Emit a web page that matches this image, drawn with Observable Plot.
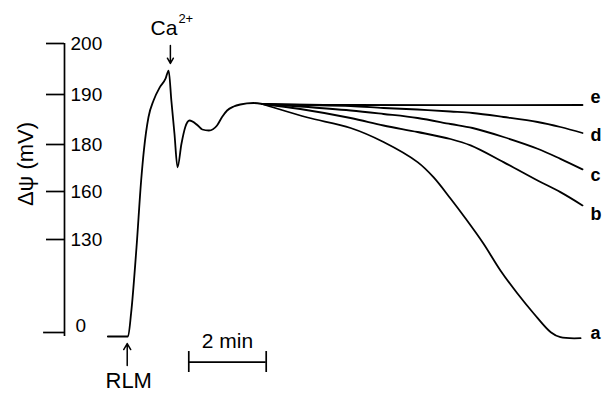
<!DOCTYPE html>
<html><head><meta charset="utf-8">
<script src="https://cdn.jsdelivr.net/npm/d3@7"></script>
<script src="https://cdn.jsdelivr.net/npm/@observablehq/plot@0.6"></script>
<style>body{margin:0;background:#fff} svg{display:block}</style>
</head><body><div id="chart"></div>
<script>
// y tick values (mV) — the original axis is non-linear (piecewise)
const yTicks = [0, 130, 160, 180, 190, 200];
const yTickPixels = [332, 239, 191, 144, 94, 43];

// Common trace: time (min, 0 = RLM addition) and Δψ (mV)
const commonT   = [-0.50, 0.02, 0.10, 0.24, 0.36, 0.43, 0.55, 0.68, 0.84, 0.99, 1.07, 1.14, 1.22, 1.30, 1.40, 1.50, 1.61, 1.81, 1.94, 2.11, 2.32, 2.45, 2.58, 2.75, 2.92, 3.26, 3.49];
const commonPsi = [-5.6, -5.6, 26.6, 119.2, 164.7, 177.4, 185.5, 188.8, 191.4, 193.1, 194.7, 188.8, 182.2, 170.3, 180.1, 183.5, 184.8, 183.9, 183.0, 182.8, 183.8, 185.5, 186.8, 187.6, 188.0, 188.3, 188.1];

// Diverging traces a–e
const seriesNames = ["a", "b", "c", "d", "e"];
const aT   = [3.49, 3.78, 4.66, 5.77, 6.62, 7.50, 7.91, 8.35, 8.74, 9.20, 9.64, 10.08, 10.50, 10.94, 11.19, 11.71];
const aPsi = [188.1, 187.4, 185.4, 183.3, 180.5, 172.5, 166.1, 155.6, 143.1, 124.4, 86.7, 54.5, 26.6, 0.4, -6.6, -8.0];
const bT   = [3.49, 4.47, 5.77, 6.62, 7.50, 8.35, 8.87, 9.72, 10.60, 11.19, 11.76];
const bPsi = [188.1, 187.1, 185.3, 183.8, 182.5, 181.1, 179.6, 172.5, 164.7, 159.6, 151.3];
const cT   = [3.49, 4.47, 5.77, 6.62, 7.50, 8.35, 8.92, 9.72, 10.60, 11.19, 11.76];
const cPsi = [188.1, 187.6, 186.8, 186.1, 185.3, 184.1, 183.3, 181.5, 178.2, 173.9, 169.4];
const dT   = [3.49, 4.47, 5.77, 6.62, 7.50, 8.35, 8.92, 9.72, 10.60, 11.19, 11.76];
const dPsi = [188.1, 187.9, 187.7, 187.3, 187.0, 186.6, 186.3, 185.5, 184.5, 183.5, 182.3];
const eT   = [3.49, 5.77, 11.76];
const ePsi = [188.1, 187.9, 187.9];

// Curve label positions (end time, Δψ of the label centre)
const labelT   = [11.76, 11.76, 11.76, 11.76, 11.76];
const labelPsi = [-1.4, 145.6, 166.8, 181.8, 189.4];

// Annotations
const rlmT = 0.0, rlmArrowPsi = [-46.1, -15.4], rlmTextPsi = -78.0;
const caT = 1.115, caArrowPsi = [199.6, 196.1], caTextPsi = 201.6;
const barStart = 1.59, barLength = 2, barPsi = -41.5, barTickPsi = [-26.6, -55.9];
const yAxisTop = 200, yAxisBottom = -5.6, xAxisAt = -1.62, xEnd = 11.76;
const tickLeft = -2.085, zeroTickLeft = -2.16, yTitlePsi = 171.7;

const common = commonT.map((t, i) => ({t, psi: commonPsi[i]}));
const tailT = [aT, bT, cT, dT, eT], tailPsi = [aPsi, bPsi, cPsi, dPsi, ePsi];
const tails = seriesNames.flatMap((s, k) => tailT[k].map((t, i) => ({series: s, t, psi: tailPsi[k][i]})));
const labels = seriesNames.map((s, k) => ({name: s, t: labelT[k], psi: labelPsi[k]}));

// piecewise-linear (non-uniform) Δψ axis, as in the original figure
const psiToPos = d3.scaleLinear().domain(yTicks).range(yTickPixels);

const font = "'Liberation Sans', Arial, Helvetica, sans-serif";
const nonZero = yTicks.filter(d => d !== 0);
const chart = Plot.plot({
  width: 602, height: 393,
  marginLeft: 64, marginRight: 20, marginTop: 43, marginBottom: 57,
  style: {fontFamily: font, background: "#fff", color: "#000"},
  x: {domain: [xAxisAt, xEnd], axis: null},
  y: {transform: d => psiToPos(d), domain: [0, 393], range: [0, 393], axis: null},
  marks: [
    Plot.ruleX([xAxisAt], {y1: yAxisBottom, y2: yAxisTop, stroke: "#000", strokeWidth: 1.7}),
    Plot.ruleY(nonZero, {y: d => d, x1: tickLeft, x2: xAxisAt, stroke: "#000", strokeWidth: 1.7}),
    Plot.ruleY([0], {y: d => d, x1: zeroTickLeft, x2: xAxisAt, stroke: "#000", strokeWidth: 1.7}),
    Plot.text(nonZero, {y: d => d, text: d => String(d), frameAnchor: "left", textAnchor: "start", dx: 6, fontSize: 19, fill: "#000"}),
    Plot.text([0], {y: d => d, text: d => String(d), frameAnchor: "left", textAnchor: "start", dx: 11, dy: -7, fontSize: 19, fill: "#000"}),
    Plot.text(["Δψ (mV)"], {y: yTitlePsi, text: d => d, frameAnchor: "left", textAnchor: "middle", rotate: -90, dx: -39, fontSize: 22, fill: "#000"}),
    Plot.line(common, {x: "t", y: "psi", curve: "monotone-x", stroke: "#000", strokeWidth: 1.8}),
    Plot.line(tails, {x: "t", y: "psi", z: "series", curve: "catmull-rom", stroke: "#000", strokeWidth: 1.8}),
    Plot.text(labels, {x: "t", y: "psi", text: "name", textAnchor: "start", dx: 8, fontSize: 18, fontWeight: "bold", fill: "#000"}),
    Plot.arrow([0], {x1: rlmT, x2: rlmT, y1: rlmArrowPsi[0], y2: rlmArrowPsi[1], headLength: 7, stroke: "#000", strokeWidth: 1.5}),
    Plot.arrow([0], {x1: caT, x2: caT, y1: caArrowPsi[0], y2: caArrowPsi[1], headLength: 7, stroke: "#000", strokeWidth: 1.5}),
    Plot.text(["RLM"], {x: rlmT, y: rlmTextPsi, text: d => d, lineAnchor: "bottom", dx: 1.5, fontSize: 22, fill: "#000"}),
    Plot.text(["Ca"], {x: caT, y: caTextPsi, text: d => d, lineAnchor: "bottom", textAnchor: "end", dx: 7, fontSize: 21, fill: "#000"}),
    Plot.text(["2+"], {x: caT, y: caTextPsi, text: d => d, lineAnchor: "bottom", textAnchor: "start", dx: 8, dy: -12, fontSize: 13, fill: "#000"}),
    Plot.ruleY([barPsi], {x1: barStart, x2: barStart + barLength, stroke: "#000", strokeWidth: 1.7}),
    Plot.ruleX([barStart, barStart + barLength], {y1: barTickPsi[0], y2: barTickPsi[1], stroke: "#000", strokeWidth: 1.7}),
    Plot.text(["2 min"], {x: barStart + barLength / 2, y: barPsi, text: d => d, lineAnchor: "bottom", dy: -13.7, fontSize: 21, fill: "#000"})
  ]
});
document.getElementById("chart").appendChild(chart);
</script>
</body></html>
